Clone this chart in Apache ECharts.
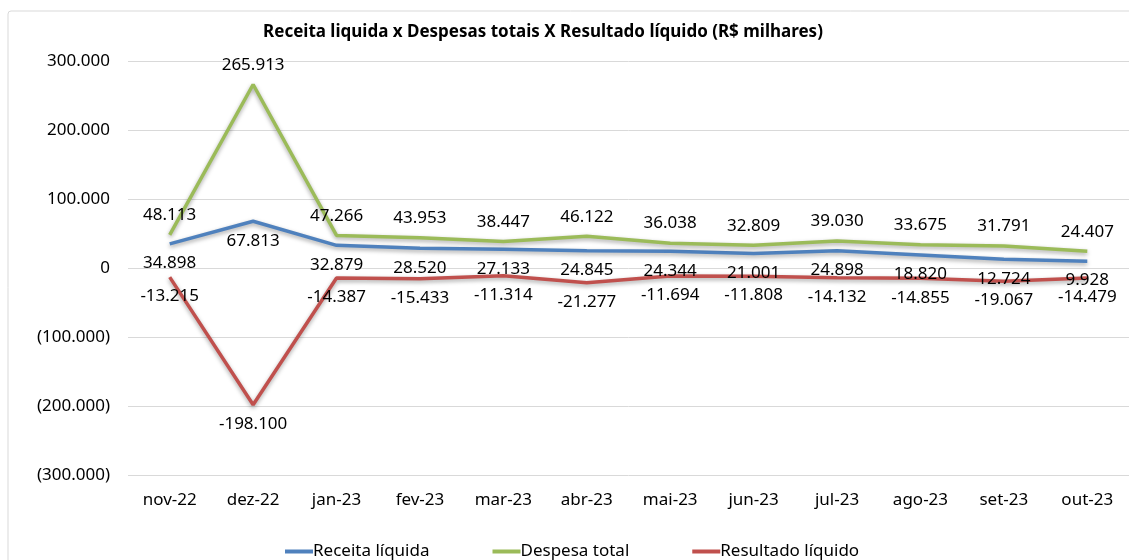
<!DOCTYPE html>
<html>
<head>
<meta charset="utf-8">
<script src="https://cdn.jsdelivr.net/npm/echarts@6/dist/echarts.min.js"></script>
<style>
    html, body { margin: 0; padding: 0; background: #fff; }
    #chart { width: 1129px; height: 560px; }
</style>
</head>
<body>
<div id="chart"></div>
<script>
var meses = ['nov-22', 'dez-22', 'jan-23', 'fev-23', 'mar-23', 'abr-23', 'mai-23', 'jun-23', 'jul-23', 'ago-23', 'set-23', 'out-23'];
var receita = [34898, 67813, 32879, 28520, 27133, 24845, 24344, 21001, 24898, 18820, 12724, 9928];
var despesa = [48113, 265913, 47266, 43953, 38447, 46122, 36038, 32809, 39030, 33675, 31791, 24407];
var resultado = [-13215, -198100, -14387, -15433, -11314, -21277, -11694, -11808, -14132, -14855, -19067, -14479];

(function () {
    var chartDom = document.getElementById('chart');
    var myChart = echarts.init(chartDom);
    var option;

    // 48113 -> "48.113"
    function milhar(n) {
        return String(Math.abs(n)).replace(/\B(?=(\d{3})+(?!\d))/g, '.');
    }

    var fonte = '"Noto Sans", "Liberation Sans", sans-serif';
    var sombra = {
        width: 3.5,
        shadowColor: 'rgba(0,0,0,0.35)',
        shadowBlur: 4,
        shadowOffsetY: 2
    };

    function serie(nome, dados, cor, pos) {
        return {
            name: nome,
            type: 'line',
            data: dados,
            symbol: 'circle',
            symbolSize: 0,
            showSymbol: true,
            color: cor,
            lineStyle: Object.assign({ color: cor }, sombra),
            label: {
                show: true,
                position: pos,
                distance: 11,
                color: '#000',
                fontFamily: fonte,
                fontSize: 17,
                formatter: function (p) {
                    return (p.value < 0 ? '-' : '') + milhar(p.value);
                }
            }
        };
    }

    option = {
        backgroundColor: '#fff',
        animation: false,
        graphic: [
            {
                type: 'rect',
                shape: { x: 8, y: 11, width: 1140, height: 570, r: 3 },
                style: { fill: 'none', stroke: '#d9d9d9', lineWidth: 1 },
                silent: true
            }
        ],
        title: {
            text: 'Receita liquida x Despesas totais X Resultado líquido (R$ milhares)',
            left: 538,
            textAlign: 'center',
            top: 19,
            textStyle: {
                fontFamily: fonte,
                fontSize: 17,
                fontWeight: 'bold',
                color: '#000'
            }
        },
        legend: {
            top: 538,
            left: 280,
            itemWidth: 28,
            itemHeight: 4,
            itemGap: 63,
            icon: 'rect',
            textStyle: {
                fontFamily: fonte,
                fontSize: 17,
                color: '#000',
                padding: [0, 0, 0, -5]
            },
            data: ['Receita líquida', 'Despesa total', 'Resultado líquido']
        },
        grid: {
            left: 128,
            right: 0,
            top: 61,
            bottom: 85
        },
        xAxis: {
            type: 'category',
            data: meses,
            axisLine: { show: false },
            axisTick: { show: false },
            axisLabel: {
                margin: 17,
                color: '#000',
                fontFamily: fonte,
                fontSize: 17
            }
        },
        yAxis: {
            type: 'value',
            min: -300000,
            max: 300000,
            interval: 100000,
            axisLine: { show: false },
            axisTick: { show: false },
            splitLine: { lineStyle: { color: '#d9d9d9', width: 1 } },
            axisLabel: {
                margin: 18,
                color: '#000',
                fontFamily: fonte,
                fontSize: 17,
                formatter: function (v) {
                    if (v === 0) return '0';
                    return v < 0 ? '(' + milhar(v) + ')' : milhar(v);
                }
            }
        },
        series: [
            serie('Receita líquida', receita, '#4f81bd', 'bottom'),
            serie('Despesa total', despesa, '#9bbb59', 'top'),
            serie('Resultado líquido', resultado, '#c0504d', 'bottom')
        ]
    };

    option && myChart.setOption(option);
})();
</script>
</body>
</html>
